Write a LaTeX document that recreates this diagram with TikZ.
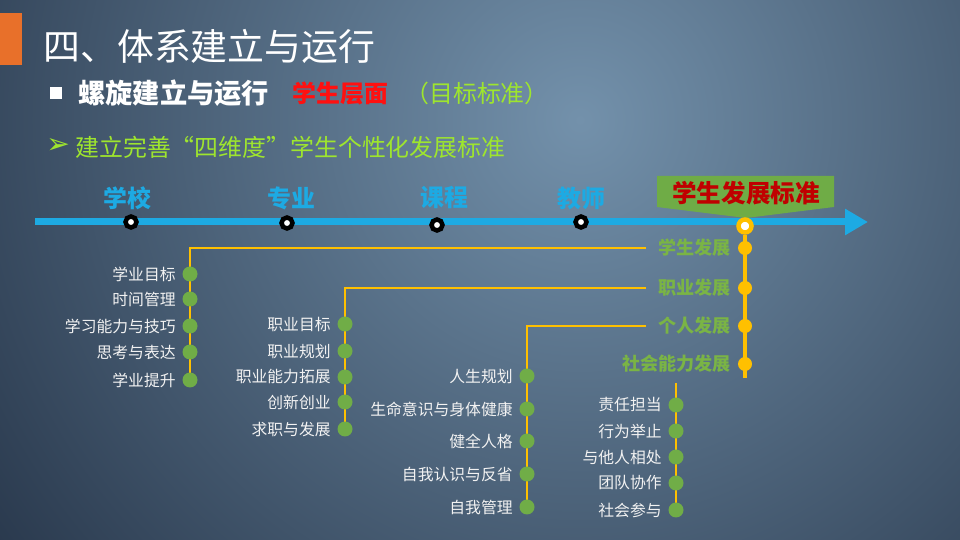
\documentclass[tikz,border=0pt]{standalone}
\usepackage{fontspec}
\setmainfont{Noto Sans CJK SC}
\newfontfamily\dejavu{DejaVu Sans}
\usetikzlibrary{arrows.meta}
\definecolor{fondooscuro}{HTML}{27364A}
\definecolor{fondoclaro}{HTML}{7391AB}
\definecolor{azul}{HTML}{1DAAE3}
\definecolor{amarillo}{HTML}{FFC000}
\definecolor{verde}{HTML}{70AD47}
\definecolor{verdeclaro}{HTML}{7AB445}
\definecolor{verdebanda}{HTML}{6FAC46}
\definecolor{lima}{HTML}{9EE52E}
\definecolor{rojo}{HTML}{FF1010}
\definecolor{rojooscuro}{HTML}{C00000}
\definecolor{naranja}{HTML}{E8702A}
\definecolor{gris}{HTML}{F2F2F2}
\pgfdeclarelayer{fondo}
\pgfdeclarelayer{lineas}
\pgfsetlayers{fondo,lineas,main}
\begin{document}
\begin{tikzpicture}[x=0.02cm, y=-0.02cm,
		rotulo/.style={anchor=east, inner sep=0pt, text=gris, font=\fontsize{9}{10}\selectfont},
		meta/.style={anchor=east, inner sep=0pt, text=verdeclaro, font=\fontsize{10.3}{12}\selectfont\bfseries},
		eje/.style={text=azul, inner sep=0pt, font=\fontsize{13.6}{15}\selectfont\bfseries},
		hito/.style={circle, draw=black, fill=white, line width=0.09cm, minimum size=0.22cm, inner sep=0pt},
		nudo/.style={circle, fill=amarillo, inner sep=0pt, minimum size=0.28cm},
		punto/.style={circle, fill=verde, inner sep=0pt, minimum size=0.3cm},
		rama/.style={draw=amarillo, line width=1.4pt}]
		\useasboundingbox (0,0) rectangle (960,540);
		% Fondo
			\begin{pgfonlayer}{fondo}
				\fill[fondooscuro] (0,0) rectangle (960,540);
				\begin{scope}
					\clip (0,0) rectangle (960,540);
					\shade[inner color=fondoclaro, outer color=fondooscuro] (580,120) circle (15cm);
				\end{scope}
				\fill[naranja] (0,13) rectangle (22,65);
			\end{pgfonlayer}
		% Encabezado
			\node[anchor=west, inner sep=0pt, text=white, font=\fontsize{21}{24}\selectfont] (titulo) at (43,46) {四、体系建立与运行};
			\node[fill=white, minimum size=0.24cm, inner sep=0pt] (vineta) at (56,93) {};
			\node[anchor=west, inner sep=0pt, text=white, font=\fontsize{15.5}{18}\selectfont\bfseries] (nivel) at (78,93) {螺旋建立与运行};
			\node[anchor=west, inner sep=0pt, text=rojo, font=\fontsize{13.6}{16}\selectfont\bfseries] (alumno) at (292,93) {学生层面};
			\node[anchor=west, inner sep=0pt, text=lima, font=\fontsize{13.6}{16}\selectfont] (objetivo) at (405,93) {（目标标准）};
			\node[anchor=west, inner sep=0pt, text=lima, font=\dejavu\fontsize{16}{18}\selectfont] (flecha) at (46,146) {➢};
			\node[anchor=west, inner sep=0pt, text=lima, font=\fontsize{13.6}{16}\selectfont] (lema) at (75,147) {建立完善“四维度”学生个性化发展标准};
		% Eje
			\coordinate (inicio) at (35,222);
			\coordinate (punta) at (868,222);
			\draw[azul, line width=0.14cm, -{Triangle[length=0.46cm, width=0.5cm]}] (inicio) -- (punta);
			\foreach \t/\x/\xt/\y [count=\i] in {学校/131/127/222, 专业/287/291/223, 课程/437/444/225, 教师/581/581/222}
				{\node[hito] (h\i) at (\x,\y) {};
				\node[eje] (e\i) at (\xt,198) {\t};}
		% Estandar
			\fill[verdebanda] (657,176) -- (834,176) -- (834,207) -- (746,218) -- (657,207) -- cycle;
			\node[text=rojooscuro, inner sep=0pt, font=\fontsize{14}{16}\selectfont\bfseries] (estandar) at (746,193) {学生发展标准};
			\node[hito, draw=amarillo, minimum size=0.26cm] (central) at (745,226) {};
			\coordinate (base) at (745,378);
			\foreach \t/\y [count=\i] in {学生发展/248, 职业发展/288, 个人发展/326, 社会能力发展/364}
				{\node[nudo] (n\i) at (745,\y) {};
				\node[meta] (m\i) at (731,\y) {\t};}
		% Ramas
			% 学生发展
				\coordinate (r1) at (646,248);
				\foreach \t/\y [count=\i] in {学业目标/274, 时间管理/299, 学习能力与技巧/326, 思考与表达/352, 学业提升/380}
					{\node[punto] (a\i) at (190,\y) {};
					\node[rotulo] (ta\i) at (176,\y) {\t};}
			% 职业发展
				\coordinate (r2) at (646,288);
				\foreach \t/\y [count=\i] in {职业目标/324, 职业规划/351, 职业能力拓展/377, 创新创业/402, 求职与发展/429}
					{\node[punto] (b\i) at (345,\y) {};
					\node[rotulo] (tb\i) at (331,\y) {\t};}
			% 个人发展
				\coordinate (r3) at (646,326);
				\foreach \t/\y [count=\i] in {人生规划/376, 生命意识与身体健康/409, 健全人格/441, 自我认识与反省/474, 自我管理/507}
					{\node[punto] (c\i) at (527,\y) {};
					\node[rotulo] (tc\i) at (513,\y) {\t};}
			% 社会能力发展
				\coordinate (r4) at (676,383);
				\foreach \t/\y [count=\i] in {责任担当/405, 行为举止/431, 与他人相处/457, 团队协作/483, 社会参与/510}
					{\node[punto] (d\i) at (676,\y) {};
					\node[rotulo] (td\i) at (662,\y) {\t};}
		% Lineas
			\begin{pgfonlayer}{lineas}
				\draw[amarillo, line width=2pt] (central) -- (base);
				\draw[rama] (r1) -| (a5.center);
				\draw[rama] (r2) -| (b5.center);
				\draw[rama] (r3) -| (c5.center);
				\draw[rama] (r4) -- (d5.center);
			\end{pgfonlayer}
	\end{tikzpicture}
\end{document}
